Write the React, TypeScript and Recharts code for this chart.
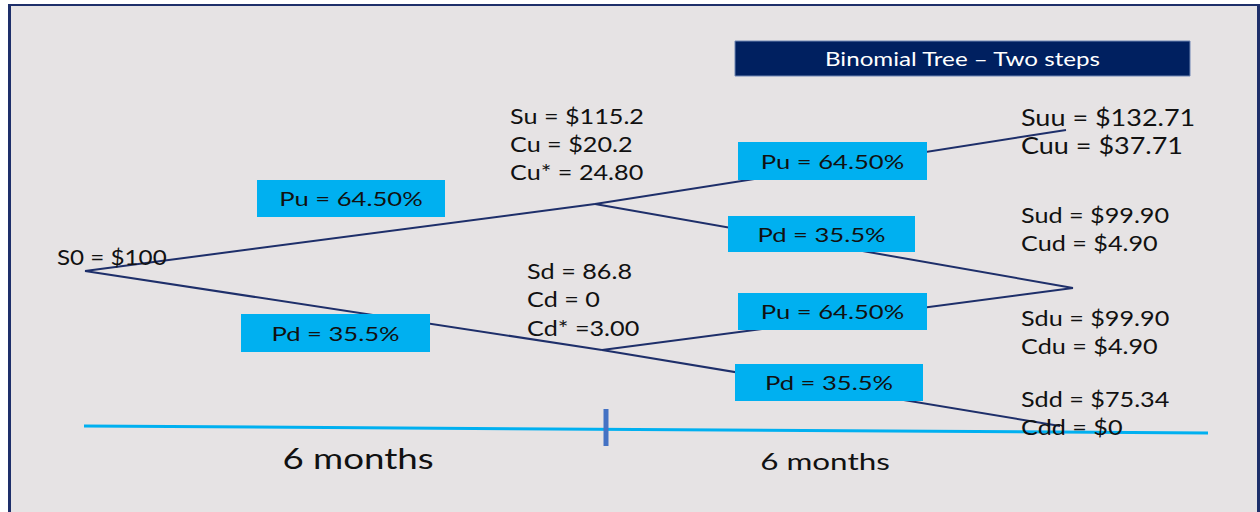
import React from 'react';
import {
  ComposedChart,
  Line,
  Scatter,
  XAxis,
  YAxis,
  ReferenceArea,
  ReferenceLine,
} from 'recharts';

// Tree nodes, in plot units (x across the 12 months, y down the page)
const nodeX = { S0: 85, Su: 595, Sd: 602, Suu: 1066, Sud: 1073, Sdd: 1060 };
const nodeY = { S0: 271, Su: 204, Sd: 350, Suu: 130, Sud: 288, Sdd: 426 };

// Branches of the two-step tree
const branchFrom = ['S0', 'S0', 'Su', 'Su', 'Sd', 'Sd'] as const;
const branchTo = ['Su', 'Sd', 'Suu', 'Sud', 'Sud', 'Sdd'] as const;

// Probability boxes sitting on the branches
const probLabels = ['Pu = 64.50%', 'Pd = 35.5%', 'Pu = 64.50%', 'Pd = 35.5%', 'Pu = 64.50%', 'Pd = 35.5%'];
const probX1 = [257, 241, 738, 728, 738, 735];
const probX2 = [445, 430, 927, 915, 927, 923];
const probY1 = [180, 314, 142, 216, 293, 364];
const probY2 = [217, 352, 180, 252, 330, 401];

// Node value texts
const noteText = [
  'S0 = $100',
  'Su = $115.2', 'Cu = $20.2', 'Cu* = 24.80',
  'Sd = 86.8', 'Cd = 0', 'Cd* =3.00',
  'Suu = $132.71', 'Cuu = $37.71',
  'Sud = $99.90', 'Cud = $4.90',
  'Sdu = $99.90', 'Cdu = $4.90',
  'Sdd = $75.34', 'Cdd = $0',
];
const noteX = [57, 510, 510, 510, 527, 527, 527, 1021, 1021, 1021, 1021, 1021, 1021, 1021, 1021];
const noteY = [256, 116, 144, 172, 271, 299, 328, 117, 145, 215, 243, 318, 346, 399, 427];
const noteSize = [22, 21, 21, 21, 21, 21, 21, 22.5, 22.5, 21, 21, 21, 21, 21, 21];

// Period labels under the time line
const periodText = ['6 months', '6 months'];
const periodX = [358, 825];
const periodY = [458, 461];
const periodSize = [28, 24];

const NAVY = '#1e2f6a';
const CYAN = '#00b0f0';
const FONT = 'Lato, "Open Sans", sans-serif';

const branches = branchFrom.map((f, i) => {
  const t = branchTo[i];
  return [
    { x: nodeX[f], y: nodeY[f] },
    { x: nodeX[t], y: nodeY[t] },
  ];
});

const notes = noteText.map((text, i) => ({ x: noteX[i], y: noteY[i], text, size: noteSize[i], first: i === 0 }));
const periods = periodText.map((text, i) => ({ x: periodX[i], y: periodY[i], text, size: periodSize[i] }));

// text widened a little on the x axis (the slide fonts run wide)
function WideText({ x, y, sx, size, anchor = 'start', fill = '#111', children }: any) {
  return (
    <text
      transform={`translate(${x} ${y}) scale(${sx} 1)`}
      textAnchor={anchor}
      dominantBaseline="central"
      fontFamily={FONT}
      fontSize={size}
      fill={fill}
    >
      {children}
    </text>
  );
}

const NoteShape = (props: any) => (
  <WideText x={props.cx} y={props.cy} sx={props.payload.first ? 1.1 : 1.2} size={props.payload.size}>
    {props.payload.text}
  </WideText>
);

const PeriodShape = (props: any) => (
  <WideText x={props.cx} y={props.cy} sx={1.31} size={props.payload.size} anchor="middle">
    {props.payload.text}
  </WideText>
);

function BoxText({ viewBox, text, size, sx, fill }: any) {
  if (!viewBox) return null;
  const { x, y, width, height } = viewBox;
  return (
    <WideText x={x + width / 2} y={y + height / 2} sx={sx} size={size} anchor="middle" fill={fill}>
      {text}
    </WideText>
  );
}

export default function App() {
  return (
    <div style={{ position: 'absolute', left: 0, top: 0, width: 1260, height: 512, background: '#fff', overflow: 'hidden' }}>
      <div
        style={{
          position: 'absolute',
          left: 8,
          top: 4,
          width: 1246,
          height: 520,
          background: '#e6e3e4',
          borderLeft: `3px solid ${NAVY}`,
          borderTop: `2px solid ${NAVY}`,
          borderRight: `3px solid ${NAVY}`,
        }}
      />
      <div style={{ position: 'absolute', left: 0, top: 0 }}>
        <ComposedChart width={1260} height={512} margin={{ top: 0, right: 0, bottom: 0, left: 0 }}>
          <XAxis type="number" dataKey="x" domain={[0, 1260]} hide allowDataOverflow />
          <YAxis type="number" dataKey="y" domain={[0, 512]} reversed hide allowDataOverflow />

          {/* time line with the half-year mark */}
          <ReferenceLine segment={[{ x: 84, y: 426 }, { x: 1208, y: 433 }]} stroke={CYAN} strokeWidth={3} />
          <ReferenceLine segment={[{ x: 606, y: 409 }, { x: 606, y: 446 }]} stroke="#4472c4" strokeWidth={5} />

          {branches.map((pts, i) => (
            <Line
              key={`b${i}`}
              data={pts}
              dataKey="y"
              type="linear"
              stroke={NAVY}
              strokeWidth={2}
              dot={false}
              activeDot={false}
              isAnimationActive={false}
            />
          ))}

          {probLabels.map((label, i) => (
            <ReferenceArea
              key={`p${i}`}
              x1={probX1[i]}
              x2={probX2[i]}
              y1={probY1[i]}
              y2={probY2[i]}
              fill={CYAN}
              fillOpacity={1}
              stroke="none"
              zIndex={700}
              label={<BoxText text={label} size={20} sx={1.28} fill="#111" />}
            />
          ))}

          <ReferenceArea
            x1={735}
            x2={1190}
            y1={41}
            y2={76}
            fill="#002060"
            fillOpacity={1}
            stroke="#6f86b3"
            strokeWidth={1}
            zIndex={700}
            label={<BoxText text="Binomial Tree – Two steps" size={19.5} sx={1.24} fill="#fff" />}
          />

          <Scatter data={notes} shape={NoteShape} isAnimationActive={false} zIndex={800} />
          <Scatter data={periods} shape={PeriodShape} isAnimationActive={false} zIndex={800} />
        </ComposedChart>
      </div>
    </div>
  );
}
